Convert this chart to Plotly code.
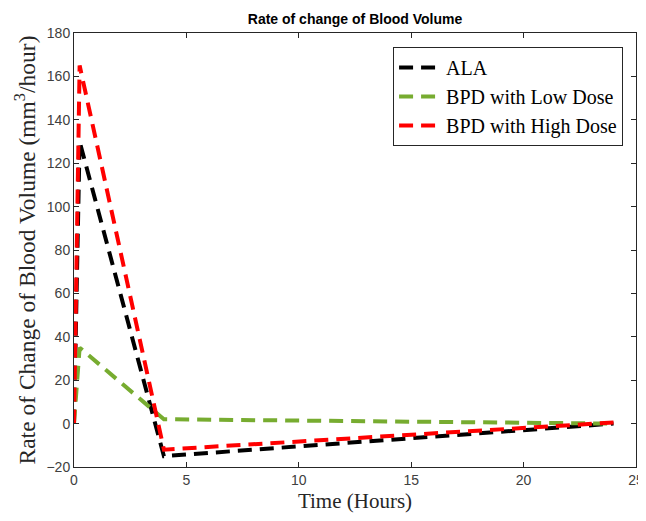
import plotly.graph_objects as go

time_hours = [0, 0.25, 4, 24]
ala = [0, 130, -15, 0]
bpd_low = [0, 35, 2, 0]
bpd_high = [0, 165, -12, 0.5]

series_names = ["ALA", "BPD with Low Dose", "BPD with High Dose"]
series_colors = ["#000000", "#77AC30", "#FF0000"]

x_ticks = [0, 5, 10, 15, 20, 25]
y_ticks = [-20, 0, 20, 40, 60, 80, 100, 120, 140, 160, 180]

fig = go.Figure()
for name, ys, col in zip(series_names, [ala, bpd_low, bpd_high], series_colors):
    fig.add_trace(go.Scatter(x=time_hours, y=ys, mode="lines", name=name,
                             line=dict(color=col, width=4, dash="14px,8px")))

axis_common = dict(showline=True, linecolor="#262626", linewidth=1, mirror="ticks",
                   ticks="inside", ticklen=5, tickcolor="#262626",
                   showgrid=False, zeroline=False, automargin=False,
                   tickfont=dict(family="Liberation Sans, Arial", size=14, color="#404040"))

# the page body adds an 8px margin; the figure is sized so the page does not overflow
fig.update_layout(
    width=638, height=505,
    paper_bgcolor="white", plot_bgcolor="white",
    margin=dict(l=66, r=10, t=25, b=46),
    title=dict(text="<b>Rate of change of Blood Volume</b>", x=0.5, xanchor="center",
               xref="paper", yref="container", y=1 - 11/505, yanchor="middle", automargin=False,
               font=dict(family="Liberation Sans, Arial", size=14, color="#000000")),
    xaxis=dict(range=[0, 25], tickvals=x_ticks,
               title=dict(text="Time (Hours)", standoff=6,
                          font=dict(family="Liberation Serif, Times New Roman", size=21, color="#262626")),
               **axis_common),
    yaxis=dict(range=[-20, 180], tickvals=y_ticks,
               title=dict(text="Rate of Change of Blood Volume (mm<sup>3</sup>/hour)", standoff=4,
                          font=dict(family="Liberation Serif, Times New Roman", size=23.5, color="#262626")),
               **axis_common),
    legend=dict(x=0.977, y=0.968, xanchor="right", yanchor="top",
                bgcolor="white", bordercolor="#262626", borderwidth=1,
                font=dict(family="Liberation Serif, Times New Roman", size=20, color="#000000"),
                tracegroupgap=0, itemwidth=42),
    showlegend=True,
)

fig.write_html("out.html")
